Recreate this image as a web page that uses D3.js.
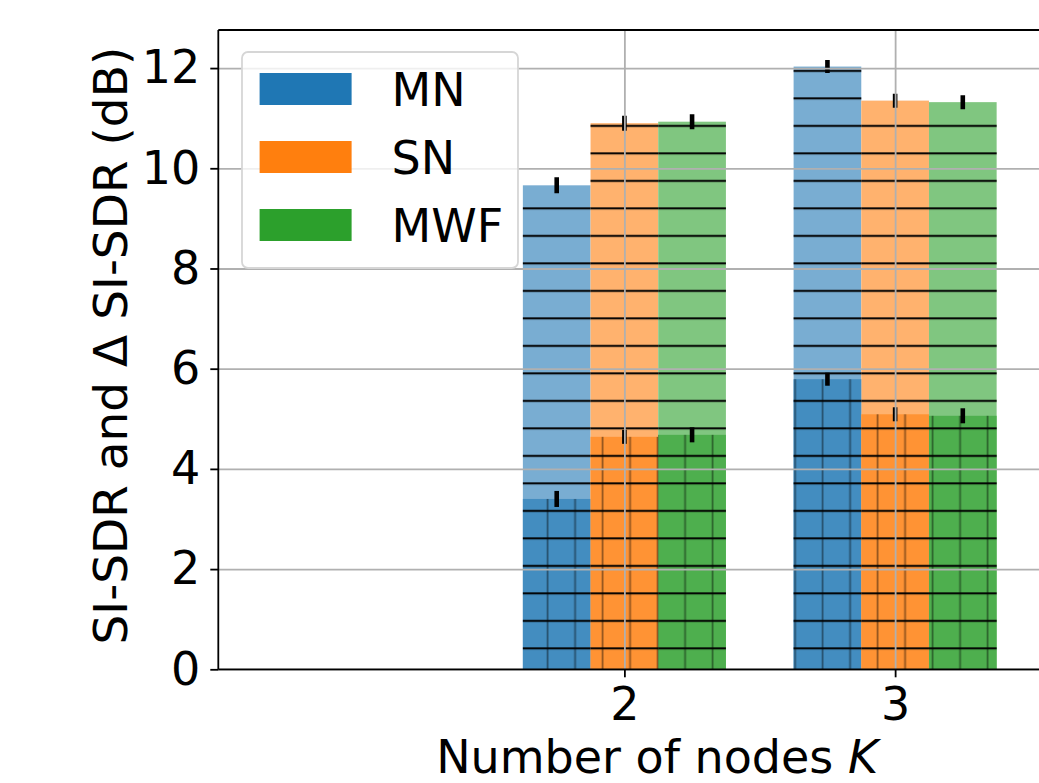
<!DOCTYPE html>
<html lang="en">
<head>
<meta charset="utf-8">
<title>SI-SDR by number of nodes</title>
<script src="https://cdn.jsdelivr.net/npm/d3@7/dist/d3.min.js"></script>
<style>
  body { margin: 0; background: #fff; }
  text { font-family: "DejaVu Sans", sans-serif; }
</style>
</head>
<body>
<script>
// data
var nodes = [2, 3];
var methods = ["MN", "SN", "MWF"];
var colors = ["#1f77b4", "#ff7f0e", "#2ca02c"];
var lightColors = ["#79add2", "#ffb26e", "#80c680"];
var darkColors = ["#438dc0", "#ff9334", "#4eaf4e"];

// SI-SDR (total, light bars) and delta SI-SDR (dark bars), per K
var mnTotal = [9.66, 12.03];
var snTotal = [10.90, 11.35];
var mwfTotal = [10.93, 11.32];
var mnDelta = [3.40, 5.79];
var snDelta = [4.64, 5.09];
var mwfDelta = [4.68, 5.06];
var mnTotalErr = [0.16, 0.13];
var snTotalErr = [0.15, 0.14];
var mwfTotalErr = [0.15, 0.14];
var mnDeltaErr = [0.16, 0.13];
var snDeltaErr = [0.14, 0.14];
var mwfDeltaErr = [0.15, 0.15];

var yTicks = [0, 2, 4, 6, 8, 10, 12];
var xTicks = [2, 3];

var W = 1039, H = 783;
var ax = {left: 218.3, right: 1096, top: 30, bottom: 669.3};
var barWidth = 0.25;
var offsets = [-0.25, 0, 0.25];

var x = d3.scaleLinear().domain([0.5, 3.742]).range([ax.left, ax.right]);
var y = d3.scaleLinear().domain([0, 12.76]).range([ax.bottom, ax.top]);

var totals = [mnTotal, snTotal, mwfTotal];
var deltas = [mnDelta, snDelta, mwfDelta];
var totalErrs = [mnTotalErr, snTotalErr, mwfTotalErr];
var deltaErrs = [mnDeltaErr, snDeltaErr, mwfDeltaErr];

var bars = [];
methods.forEach(function(m, i) {
  nodes.forEach(function(k, j) {
    bars.push({m: i, k: k, total: totals[i][j], delta: deltas[i][j],
               totalErr: totalErrs[i][j], deltaErr: deltaErrs[i][j]});
  });
});

var svg = d3.select("body").append("svg")
    .attr("width", W)
    .attr("height", H);

// hatch patterns, tiled in page coordinates like matplotlib
var defs = svg.append("defs");
var hp = 27.5;
defs.append("pattern")
    .attr("id", "hatchH")
    .attr("patternUnits", "userSpaceOnUse")
    .attr("width", hp).attr("height", hp)
  .append("line")
    .attr("x1", 0).attr("x2", hp)
    .attr("y1", 15.9).attr("y2", 15.9)
    .attr("stroke", "#000").attr("stroke-width", 2);
defs.append("pattern")
    .attr("id", "hatchV")
    .attr("patternUnits", "userSpaceOnUse")
    .attr("width", hp).attr("height", hp)
  .append("line")
    .attr("x1", 25.1).attr("x2", 25.1)
    .attr("y1", 0).attr("y2", hp)
    .attr("stroke", "#000").attr("stroke-opacity", 0.42).attr("stroke-width", 1.8);

defs.append("clipPath").attr("id", "axclip")
  .append("rect")
    .attr("x", ax.left).attr("y", ax.top)
    .attr("width", ax.right - ax.left).attr("height", ax.bottom - ax.top);

var plot = svg.append("g").attr("clip-path", "url(#axclip)");

function bx(d) { return x(d.k + offsets[d.m] - barWidth / 2); }
function bw() { return x(barWidth) - x(0); }

// light bars (total)
plot.selectAll(".light")
    .data(bars)
  .enter().append("rect")
    .attr("class", "light")
    .attr("x", bx)
    .attr("width", bw)
    .attr("y", function(d) { return y(d.total); })
    .attr("height", function(d) { return y(0) - y(d.total); })
    .style("fill", function(d) { return lightColors[d.m]; });

// dark bars (delta)
plot.selectAll(".dark")
    .data(bars)
  .enter().append("rect")
    .attr("class", "dark")
    .attr("x", bx)
    .attr("width", bw)
    .attr("y", function(d) { return y(d.delta); })
    .attr("height", function(d) { return y(0) - y(d.delta); })
    .style("fill", function(d) { return darkColors[d.m]; });

plot.selectAll(".hatchV")
    .data(bars)
  .enter().append("rect")
    .attr("x", bx)
    .attr("width", bw)
    .attr("y", function(d) { return y(d.delta); })
    .attr("height", function(d) { return y(0) - y(d.delta); })
    .style("fill", "url(#hatchV)");

plot.selectAll(".hatchH")
    .data(bars)
  .enter().append("rect")
    .attr("x", bx)
    .attr("width", bw)
    .attr("y", function(d) { return y(d.total); })
    .attr("height", function(d) { return y(0) - y(d.total); })
    .style("fill", "url(#hatchH)");

// grid on top of the bars
var yGrid = svg.append("g")
    .attr("transform", "translate(" + ax.left + ",0)")
    .call(d3.axisLeft(y).tickValues(yTicks).tickSize(-(W - ax.left)).tickFormat(""));
var xGrid = svg.append("g")
    .attr("transform", "translate(0," + ax.bottom + ")")
    .call(d3.axisBottom(x).tickValues(xTicks).tickSize(-(ax.bottom - ax.top)).tickFormat(""));
[yGrid, xGrid].forEach(function(g) {
  g.select(".domain").remove();
  g.selectAll("line").attr("stroke", "#b0b0b0").attr("stroke-width", 1.8);
});

// error bars
function errLines(cls, val, err) {
  plot.selectAll("." + cls)
      .data(bars)
    .enter().append("line")
      .attr("x1", function(d) { return x(d.k + offsets[d.m]); })
      .attr("x2", function(d) { return x(d.k + offsets[d.m]); })
      .attr("y1", function(d) { return y(d[val] - d[err]); })
      .attr("y2", function(d) { return y(d[val] + d[err]); })
      .attr("stroke", "#000")
      .attr("stroke-width", 4.6);
}
errLines("errT", "total", "totalErr");
errLines("errD", "delta", "deltaErr");

// axes
var yAxis = svg.append("g")
    .attr("transform", "translate(" + ax.left + ",0)")
    .call(d3.axisLeft(y).tickValues(yTicks).tickSize(8).tickPadding(10)
      .tickSizeOuter(0).tickFormat(d3.format("d")));
var xAxis = svg.append("g")
    .attr("transform", "translate(0," + ax.bottom + ")")
    .call(d3.axisBottom(x).tickValues(xTicks).tickSize(8).tickPadding(10)
      .tickSizeOuter(0).tickFormat(d3.format("d")));
[yAxis, xAxis].forEach(function(g) {
  g.attr("font-size", 46).attr("font-family", "DejaVu Sans, sans-serif");
  g.selectAll("line").attr("stroke", "#000").attr("stroke-width", 1.8);
  g.selectAll("text").attr("fill", "#000");
  g.select(".domain").remove();
});

// spines
svg.append("line")
    .attr("x1", ax.left).attr("x2", ax.left)
    .attr("y1", ax.top).attr("y2", ax.bottom)
    .attr("stroke", "#000").attr("stroke-width", 1.8);
svg.append("line")
    .attr("x1", ax.left).attr("x2", W)
    .attr("y1", ax.bottom).attr("y2", ax.bottom)
    .attr("stroke", "#000").attr("stroke-width", 1.8);
svg.append("line")
    .attr("x1", ax.left).attr("x2", W)
    .attr("y1", ax.top).attr("y2", ax.top)
    .attr("stroke", "#000").attr("stroke-width", 1.8);

// axis labels
svg.append("text")
    .attr("transform", "translate(127," + ((ax.top + ax.bottom) / 2 - 4) + ") rotate(-90)")
    .attr("text-anchor", "middle")
    .attr("font-size", 47)
    .text("SI-SDR and \u0394 SI-SDR (dB)");

var xl = svg.append("text")
    .attr("x", (ax.left + ax.right) / 2)
    .attr("y", 773)
    .attr("text-anchor", "middle")
    .attr("font-size", 46);
xl.append("tspan").text("Number of nodes ");
xl.append("tspan").attr("font-style", "italic").text("K");

// legend
var legend = svg.append("g");
legend.append("rect")
    .attr("x", 242).attr("y", 52)
    .attr("width", 276).attr("height", 216)
    .attr("rx", 6)
    .attr("fill", "rgba(255,255,255,0.8)")
    .attr("stroke", "#d6d6d6")
    .attr("stroke-width", 1.8);
var items = legend.selectAll(".item")
    .data(methods)
  .enter().append("g")
    .attr("transform", function(d, i) { return "translate(0," + (89 + i * 68) + ")"; });
items.append("rect")
    .attr("x", 259.6).attr("y", -16)
    .attr("width", 92).attr("height", 32)
    .attr("fill", function(d, i) { return colors[i]; });
items.append("text")
    .attr("x", 391.5)
    .attr("y", 17)
    .attr("font-size", 46)
    .text(function(d) { return d; });
</script>
</body>
</html>
